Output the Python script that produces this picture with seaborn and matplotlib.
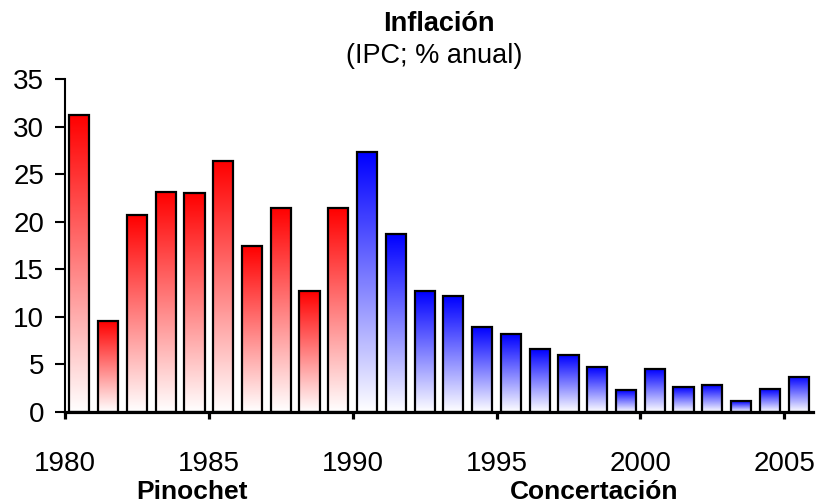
import numpy as np
import pandas as pd
import matplotlib.pyplot as plt
import seaborn as sns
from matplotlib.colors import to_rgb

# Datos: IPC Chile, variacion anual (%)
years = list(range(1980, 2006))
ipc = [31.2, 9.5, 20.7, 23.1, 23.0, 26.4, 17.4, 21.5, 12.7, 21.4,
       27.3, 18.7, 12.7, 12.2, 8.9, 8.2, 6.6, 6.0, 4.7, 2.3,
       4.5, 2.6, 2.8, 1.1, 2.4, 3.7]
gobierno = ['Pinochet'] * 10 + ['Concertación'] * 16
tick_years = [1980, 1985, 1990, 1995, 2000, 2005]
colores = {'Pinochet': '#ff0000', 'Concertación': '#0000ff'}

df = pd.DataFrame({'year': years, 'ipc': ipc, 'gobierno': gobierno})

sns.set_style('ticks', {'axes.edgecolor': 'black', 'text.color': 'black',
                        'xtick.color': 'black', 'ytick.color': 'black'})
plt.rcParams['font.family'] = ['Liberation Sans', 'DejaVu Sans']

fig, ax = plt.subplots(figsize=(8.31, 5.04), dpi=100)
fig.subplots_adjust(left=65/831, right=813/831, bottom=1-411.7/504, top=1-79.3/504)

sns.barplot(data=df, x='year', y='ipc', hue='gobierno', palette=colores,
            saturation=1, dodge=False, width=0.7, legend=False, ax=ax,
            edgecolor='black', linewidth=1.6)

# gradient fill: color at top, white at the bottom
t = np.linspace(0, 1, 256)[:, None]
for p in ax.patches:
    h = p.get_height()
    if not np.isfinite(h) or h <= 0:
        continue
    c = np.array(to_rgb(p.get_facecolor()))
    img = (1 - t * (1 - c))[:, None, :]
    x, w = p.get_x(), p.get_width()
    ax.imshow(img, extent=[x, x + w, 0, h], origin='lower', aspect='auto',
              zorder=1, interpolation='bilinear')
    p.set_facecolor('none')
    p.set_zorder(2)

ax.set_xlim(-0.5, 25.5)
ax.set_ylim(0, 35)
ax.set_yticks(range(0, 36, 5))
ax.set_xticks([i - 0.5 for i in range(0, 26, 5)])
ax.set_xticklabels(tick_years)
ax.set_xlabel('')
ax.set_ylabel('')
sns.despine(ax=ax)

ax.spines['left'].set_linewidth(1.5)
ax.spines['bottom'].set_linewidth(2.3)
ax.tick_params(axis='y', length=7, width=1.5, pad=8, labelsize=20)
ax.tick_params(axis='x', length=5, width=2.3, pad=23, labelsize=20)

fig.text(439/831, 1 - 30.7/504, 'Inflación', ha='center', va='baseline',
         fontsize=19.5, fontweight='bold')
fig.text(434/831, 1 - 63.3/504, '(IPC; % anual)', ha='center', va='baseline',
         fontsize=19.5)
fig.text(192/831, 1 - 499/504, 'Pinochet', ha='center', va='baseline',
         fontsize=19, fontweight='bold')
fig.text(594/831, 1 - 499/504, 'Concertación', ha='center', va='baseline',
         fontsize=19, fontweight='bold')

plt.savefig('out.png', dpi=100)
